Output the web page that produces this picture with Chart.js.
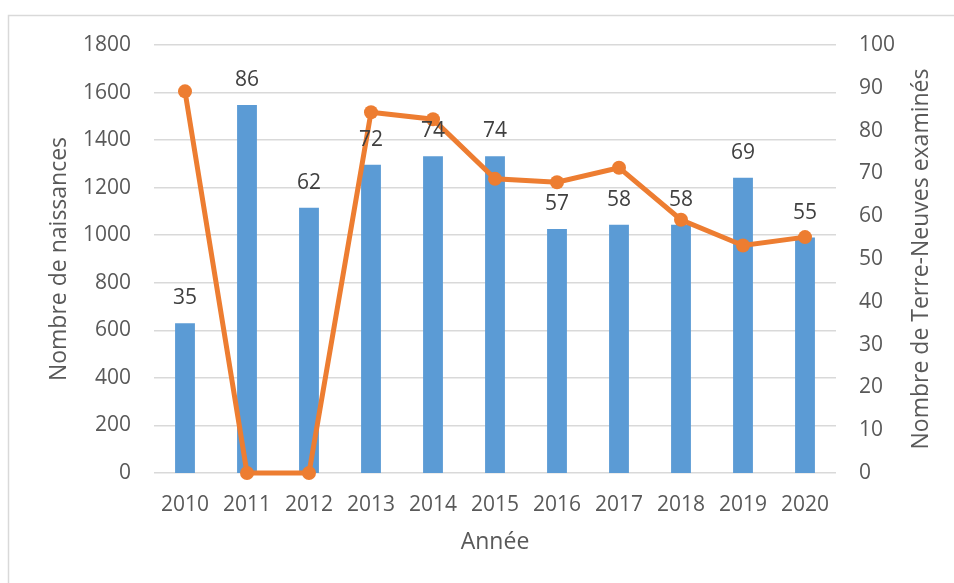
<!DOCTYPE html>
<html>
<head>
<meta charset="utf-8">
<script src="https://cdn.jsdelivr.net/npm/chart.js@4/dist/chart.umd.min.js"></script>
<style>
  html, body { margin: 0; padding: 0; background: #fff; overflow: hidden; }
  #chart { display: block; }
</style>
</head>
<body>
<canvas id="chart" width="954" height="583"></canvas>
<script>
// Data
const years = ["2010", "2011", "2012", "2013", "2014", "2015", "2016", "2017", "2018", "2019", "2020"];
const examined = [35, 86, 62, 72, 74, 74, 57, 58, 58, 69, 55];            // bars, right axis
const births = [1605, 0, 0, 1517, 1488, 1237, 1223, 1284, 1065, 957, 992]; // line, left axis

const FONT = "'Open Sans', 'DejaVu Sans', sans-serif";
const TEXT = "#595959";
const GRID = "#d9d9d9";

// border, bar value labels and the right axis title
const overlay = {
  id: "overlay",
  beforeDraw(chart) {
    const ctx = chart.ctx;
    ctx.save();
    ctx.fillStyle = "#fff";
    ctx.fillRect(0, 0, chart.width, chart.height);
    ctx.strokeStyle = GRID;
    ctx.lineWidth = 1.5;
    ctx.strokeRect(8.5, 15.5, 960, 600);
    ctx.restore();
  },
  afterDatasetsDraw(chart) {
    const ctx = chart.ctx;
    const meta = chart.getDatasetMeta(0);
    ctx.save();
    ctx.font = "21px " + FONT;
    ctx.fillStyle = "#404040";
    ctx.textAlign = "center";
    ctx.textBaseline = "middle";
    meta.data.forEach((bar, i) => {
      ctx.fillText(String(examined[i]), bar.x, bar.y - 25);
    });
    ctx.restore();
  },
  afterDraw(chart) {
    const ctx = chart.ctx;
    const area = chart.chartArea;
    ctx.save();
    ctx.translate(921, (area.top + area.bottom) / 2);
    ctx.rotate(-Math.PI / 2);
    ctx.font = "23px " + FONT;
    ctx.fillStyle = TEXT;
    ctx.textAlign = "center";
    ctx.textBaseline = "middle";
    ctx.fillText("Nombre de Terre-Neuves examinés", 0, 0);
    ctx.restore();
  }
};

new Chart(document.getElementById("chart").getContext("2d"), {
  type: "bar",
  data: {
    labels: years,
    datasets: [
      {
        type: "bar",
        label: "Nombre de Terre-Neuves examinés",
        data: examined,
        yAxisID: "y1",
        backgroundColor: "#5b9bd5",
        categoryPercentage: 1,
        barPercentage: 0.32,
        order: 1
      },
      {
        type: "line",
        label: "Nombre de naissances",
        data: births,
        yAxisID: "y",
        borderColor: "#ed7d31",
        backgroundColor: "#ed7d31",
        borderWidth: 5,
        tension: 0,
        clip: false,
        pointRadius: 7,
        pointBackgroundColor: "#ed7d31",
        pointBorderColor: "#ed7d31",
        pointBorderWidth: 0,
        order: 0
      }
    ]
  },
  options: {
    responsive: false,
    animation: false,
    layout: { padding: { top: 45, left: 0, right: 0, bottom: 0 } },
    plugins: {
      legend: { display: false },
      tooltip: { enabled: false }
    },
    scales: {
      x: {
        grid: { display: false, drawTicks: false },
        border: { display: false },
        ticks: { color: TEXT, font: { family: FONT, size: 21 }, padding: 19 },
        title: {
          display: true,
          text: "Année",
          color: TEXT,
          font: { family: FONT, size: 23 },
          padding: { top: 0, bottom: 27 }
        },
        afterFit(scale) { scale.height = 110; }
      },
      y: {
        position: "left",
        min: 0,
        max: 1800,
        ticks: {
          stepSize: 200,
          color: TEXT,
          font: { family: FONT, size: 21 },
          padding: 23,
          callback: (v) => String(v)
        },
        grid: { color: GRID, lineWidth: 1.5, drawTicks: false },
        border: { display: false },
        title: {
          display: true,
          text: "Nombre de naissances",
          color: TEXT,
          font: { family: FONT, size: 23 },
          padding: { top: 46, bottom: 0 }
        },
        afterFit(scale) { scale.width = 154; }
      },
      y1: {
        position: "right",
        min: 0,
        max: 100,
        ticks: { stepSize: 10, color: TEXT, font: { family: FONT, size: 21 }, padding: 23 },
        grid: { display: false, drawTicks: false },
        border: { display: false },
        afterFit(scale) { scale.width = 118; }
      }
    }
  },
  plugins: [overlay]
});
</script>
</body>
</html>
